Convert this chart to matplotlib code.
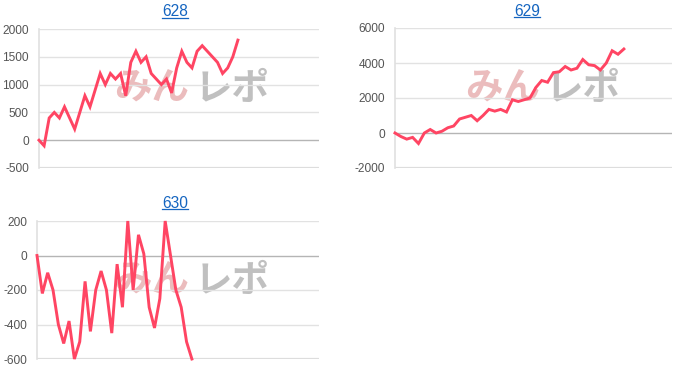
import matplotlib
matplotlib.use("Agg")
import matplotlib.pyplot as plt
from matplotlib.lines import Line2D

plt.rcParams['font.family'] = ['Liberation Sans', 'DejaVu Sans']

titles = ["628", "629", "630"]

vals_628 = [0, -100, 400, 500, 400, 600, 400, 200, 500, 800, 600, 900, 1200, 1000,
            1200, 1100, 1200, 800, 1400, 1600, 1400, 1500, 1200, 1100, 1000, 1100,
            850, 1300, 1600, 1400, 1300, 1600, 1700, 1600, 1500, 1400, 1200, 1300,
            1500, 1800]
vals_629 = [0, -200, -350, -250, -600, 0, 200, 0, 100, 300, 400, 800, 900, 1000,
            700, 1000, 1350, 1250, 1350, 1200, 1900, 1800, 1900, 2000, 2600, 3000,
            2900, 3450, 3500, 3800, 3600, 3700, 4200, 3900, 3850, 3600, 4000, 4700,
            4500, 4800]
vals_630 = [0, -220, -100, -200, -400, -510, -380, -600, -500, -150, -440, -200,
            -90, -200, -450, -50, -300, 200, -200, 120, 10, -300, -420, -250, 200,
            0, -200, -300, -500, -600]

yticks_628 = [-500, 0, 500, 1000, 1500, 2000]
yticks_629 = [-2000, 0, 2000, 4000, 6000]
yticks_630 = [-600, -400, -200, 0, 200]

W, H = 700, 384
fig = plt.figure(figsize=(7, 3.84), dpi=100)

LINE = '#ff4563'

def px_rect(l, t, r, b):
    return [l / W, (H - b) / H, (r - l) / W, (b - t) / H]

specs = [
    (titles[0], vals_628, yticks_628, px_rect(39, 29, 319, 168), 54.9, (175, 12), (192, 88)),
    (titles[1], vals_629, yticks_629, px_rect(395, 28, 672, 168), 47.2, (527, 11), (543, 88)),
    (titles[2], vals_630, yticks_630, px_rect(37, 221, 319, 359), 52.8, (175, 203), (192, 280)),
]

for title, vals, yt, rect, xmax, tpos, wpos in specs:
    ax = fig.add_axes(rect)
    ax.set_facecolor('none')
    ax.set_zorder(2)
    x = list(range(len(vals)))
    ax.plot(x, vals, color=LINE, lw=2.1, zorder=5, solid_joinstyle='miter', clip_on=False)
    ax.set_xlim(0, xmax)
    ax.set_ylim(yt[0], yt[-1])
    ax.set_yticks(yt)
    ax.set_yticklabels([str(v) for v in yt])
    ax.set_xticks([])
    for v in yt:
        if v == 0:
            ax.axhline(v, color='#b5b5b5', lw=1.0, zorder=2)
        elif v == yt[0]:
            ax.axhline(v, color='#dddddd', lw=1.6, zorder=2)
        else:
            ax.axhline(v, color='#e2e2e2', lw=1.0, zorder=2)
    for s in ['top', 'right', 'bottom']:
        ax.spines[s].set_visible(False)
    ax.spines['left'].set_color('#e0e0e0')
    ax.spines['left'].set_linewidth(1.2)
    ax.tick_params(axis='y', length=0, pad=7.3, labelsize=8.6, labelcolor='#555555')
    # watermark
    wx, wy = wpos
    fig.text((wx - 40) / W, (H - wy) / H, "みん", family=['Noto Sans CJK JP', 'DejaVu Sans'],
             fontweight='bold', fontsize=27, color='#ebbcbd', ha='center', va='center',
             zorder=0.5)
    fig.text((wx + 40) / W, (H - wy) / H, "レポ", family=['Noto Sans CJK JP', 'DejaVu Sans'],
             fontweight='bold', fontsize=27, color='#c0c0c0', ha='center', va='center',
             zorder=0.5)
    # title with underline
    tx, ty = tpos
    fig.text(tx / W, (H - ty) / H, title, fontsize=11.2, color='#1565c0',
             ha='center', va='center')
    fig.add_artist(Line2D([(tx - 13) / W, (tx + 13) / W],
                          [(H - ty - 6) / H, (H - ty - 6) / H],
                          color='#1565c0', lw=0.9))

fig.savefig('out.png', dpi=100)
